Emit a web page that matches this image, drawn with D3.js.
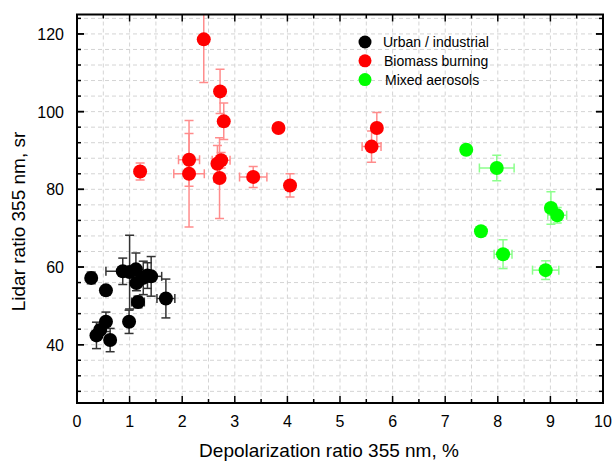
<!DOCTYPE html>
<html>
<head>
<meta charset="utf-8">
<script src="https://d3js.org/d3.v7.min.js"></script>
<style>
  body { margin: 0; background: #fff; }
  text { font-family: "Liberation Sans", Arial, sans-serif; }
</style>
</head>
<body>
<div id="my_dataviz"></div>
<script>

// data: [depolarization %, lidar ratio sr, x error, y error]
var urban = [
  [0.27, 57.2, 0, 1.5],
  [0.55, 54.0, 0, 0],
  [0.87, 58.9, 0.32, 3.4],
  [1.00, 58.7, 0, 9.5],
  [1.12, 59.4, 0, 4.2],
  [1.13, 55.9, 0, 2.0],
  [1.26, 57.2, 0, 4.3],
  [1.34, 57.8, 0, 3.3],
  [1.41, 57.6, 0.2, 5.1],
  [1.16, 51.0, 0.12, 1.5],
  [1.69, 51.9, 0.17, 5.0],
  [0.99, 45.9, 0, 3.0],
  [0.55, 45.9, 0, 2.5],
  [0.44, 43.8, 0, 0],
  [0.37, 42.4, 0, 3.4],
  [0.63, 41.2, 0, 3.0]
];
var biomass = [
  [1.20, 84.6, 0, 2.2],
  [2.13, 87.6, 0.2, 6.8],
  [2.13, 84.0, 0.29, 13.7],
  [2.41, 118.6, 0, 11.1],
  [2.72, 105.2, 0, 5.7],
  [2.79, 97.5, 0, 4.7],
  [2.74, 87.5, 0.17, 2.0],
  [2.67, 86.6, 0, 4.7],
  [2.71, 82.9, 0, 10.4],
  [3.35, 83.2, 0.26, 2.7],
  [3.83, 95.8, 0, 0],
  [4.05, 81.0, 0, 3.0],
  [5.60, 91.0, 0.18, 4.0],
  [5.70, 95.8, 0.08, 4.0]
];
var mixed = [
  [7.40, 90.2, 0, 0],
  [7.98, 85.5, 0.33, 3.3],
  [9.01, 75.2, 0.1, 4.2],
  [9.13, 73.3, 0.18, 2.0],
  [7.68, 69.2, 0, 0],
  [8.10, 63.3, 0.17, 3.7],
  [8.91, 59.2, 0.25, 2.4]
];
var seriesNames = ["Urban / industrial", "Biomass burning", "Mixed aerosols"];
var xTicks = [0, 1, 2, 3, 4, 5, 6, 7, 8, 9, 10];
var yTicks = [40, 60, 80, 100, 120];

// set the dimensions and margins of the graph
var margin = {top: 14.5, right: 10, bottom: 59, left: 77},
    width = 613 - margin.left - margin.right,
    height = 462 - margin.top - margin.bottom;

var svg = d3.select("#my_dataviz")
  .append("svg")
    .attr("width", 613)
    .attr("height", 462)
  .append("g")
    .attr("transform", "translate(" + margin.left + "," + margin.top + ")");

var x = d3.scaleLinear().domain([0, 10]).range([0, width]);
var y = d3.scaleLinear().domain([25, 125]).range([height, 0]);

var xMinor = d3.range(0, 10.01, 0.5);
var yMinor = d3.range(28, 125, 4);

// dashed grid
svg.append("g").selectAll("line")
  .data(xMinor.filter(function(d){ return d > 0 && d < 10 }))
  .enter().append("line")
    .attr("x1", function(d){ return x(d) }).attr("x2", function(d){ return x(d) })
    .attr("y1", 0).attr("y2", height)
    .attr("stroke", "#d4d4d4").attr("stroke-dasharray", "4,3");
svg.append("g").selectAll("line")
  .data(yMinor)
  .enter().append("line")
    .attr("y1", function(d){ return y(d) }).attr("y2", function(d){ return y(d) })
    .attr("x1", 0).attr("x2", width)
    .attr("stroke", "#d4d4d4").attr("stroke-dasharray", "4,3");

// clip for markers / error bars
svg.append("clipPath").attr("id", "clip")
  .append("rect").attr("width", width).attr("height", height);

var plot = svg.append("g").attr("clip-path", "url(#clip)");

function drawSeries(data, fill, barColor) {
  var g = plot.append("g");
  var cap = 4.5;
  data.forEach(function(d) {
    var cx = x(d[0]), cy = y(d[1]);
    if (d[3] > 0) {
      g.append("line").attr("x1", cx).attr("x2", cx)
        .attr("y1", y(d[1] - d[3])).attr("y2", y(d[1] + d[3]))
        .attr("stroke", barColor).attr("stroke-width", 1.5);
      [d[1] - d[3], d[1] + d[3]].forEach(function(v) {
        g.append("line").attr("x1", cx - cap).attr("x2", cx + cap)
          .attr("y1", y(v)).attr("y2", y(v))
          .attr("stroke", barColor).attr("stroke-width", 1.5);
      });
    }
    if (d[2] > 0) {
      g.append("line").attr("y1", cy).attr("y2", cy)
        .attr("x1", x(d[0] - d[2])).attr("x2", x(d[0] + d[2]))
        .attr("stroke", barColor).attr("stroke-width", 1.5);
      [d[0] - d[2], d[0] + d[2]].forEach(function(v) {
        g.append("line").attr("y1", cy - cap).attr("y2", cy + cap)
          .attr("x1", x(v)).attr("x2", x(v))
          .attr("stroke", barColor).attr("stroke-width", 1.5);
      });
    }
  });
  g.selectAll("circle")
    .data(data)
    .enter().append("circle")
      .attr("cx", function(d){ return x(d[0]) })
      .attr("cy", function(d){ return y(d[1]) })
      .attr("r", 7)
      .attr("fill", fill);
}

drawSeries(urban, "#000000", "#333333");
drawSeries(biomass, "#ff0000", "#ff8c8c");
drawSeries(mixed, "#00ff00", "#8cff8c");

// axes: ticks inward on all four sides
function tickLines(axisG, orient) {
  var major = orient === "x" ? xTicks : yTicks;
  var minor = orient === "x" ? xMinor : yMinor;
  minor.forEach(function(v) {
    var len = major.indexOf(v) >= 0 ? 7 : 4;
    if (orient === "x") {
      axisG.append("line").attr("x1", x(v)).attr("x2", x(v)).attr("y1", height).attr("y2", height - len);
      axisG.append("line").attr("x1", x(v)).attr("x2", x(v)).attr("y1", 0).attr("y2", len);
    } else {
      axisG.append("line").attr("y1", y(v)).attr("y2", y(v)).attr("x1", 0).attr("x2", len);
      axisG.append("line").attr("y1", y(v)).attr("y2", y(v)).attr("x1", width).attr("x2", width - len);
    }
  });
  if (orient === "y") {
    major.forEach(function(v) {
      axisG.append("line").attr("y1", y(v)).attr("y2", y(v)).attr("x1", 0).attr("x2", 7);
      axisG.append("line").attr("y1", y(v)).attr("y2", y(v)).attr("x1", width).attr("x2", width - 7);
    });
  }
}
var axes = svg.append("g").attr("stroke", "#000").attr("stroke-width", 1.5);
tickLines(axes, "x");
tickLines(axes, "y");

svg.append("rect")
  .attr("width", width).attr("height", height)
  .attr("fill", "none").attr("stroke", "#000").attr("stroke-width", 2);

// tick labels
svg.append("g").selectAll("text")
  .data(xTicks)
  .enter().append("text")
    .attr("x", function(d){ return x(d) })
    .attr("y", height + 24)
    .attr("text-anchor", "middle")
    .style("font-size", "16px")
    .text(function(d){ return d });
svg.append("g").selectAll("text")
  .data(yTicks)
  .enter().append("text")
    .attr("x", -13)
    .attr("y", function(d){ return y(d) + 6 })
    .attr("text-anchor", "end")
    .style("font-size", "16px")
    .text(function(d){ return d });

// axis titles
svg.append("text")
  .attr("x", 252)
  .attr("y", height + 54)
  .attr("text-anchor", "middle")
  .style("font-size", "19px")
  .text("Depolarization ratio 355 nm, %");
svg.append("text")
  .attr("transform", "translate(-52," + 207 + ") rotate(-90)")
  .attr("text-anchor", "middle")
  .style("font-size", "19px")
  .text("Lidar ratio 355 nm, sr");

// legend
var legendColors = ["#000000", "#ff0000", "#00ff00"];
var legend = svg.append("g").attr("transform", "translate(" + (365 - margin.left) + "," + (42 - margin.top) + ")");
legend.selectAll("circle")
  .data(seriesNames)
  .enter().append("circle")
    .attr("cx", 0)
    .attr("cy", function(d, i){ return i * 18.8 })
    .attr("r", 6.5)
    .attr("fill", function(d, i){ return legendColors[i] });
legend.selectAll("text")
  .data(seriesNames)
  .enter().append("text")
    .attr("x", function(d, i){ return 18 + i })
    .attr("y", function(d, i){ return i * 18.8 + 5 })
    .style("font-size", "14px")
    .text(function(d){ return d });

</script>
</body>
</html>
